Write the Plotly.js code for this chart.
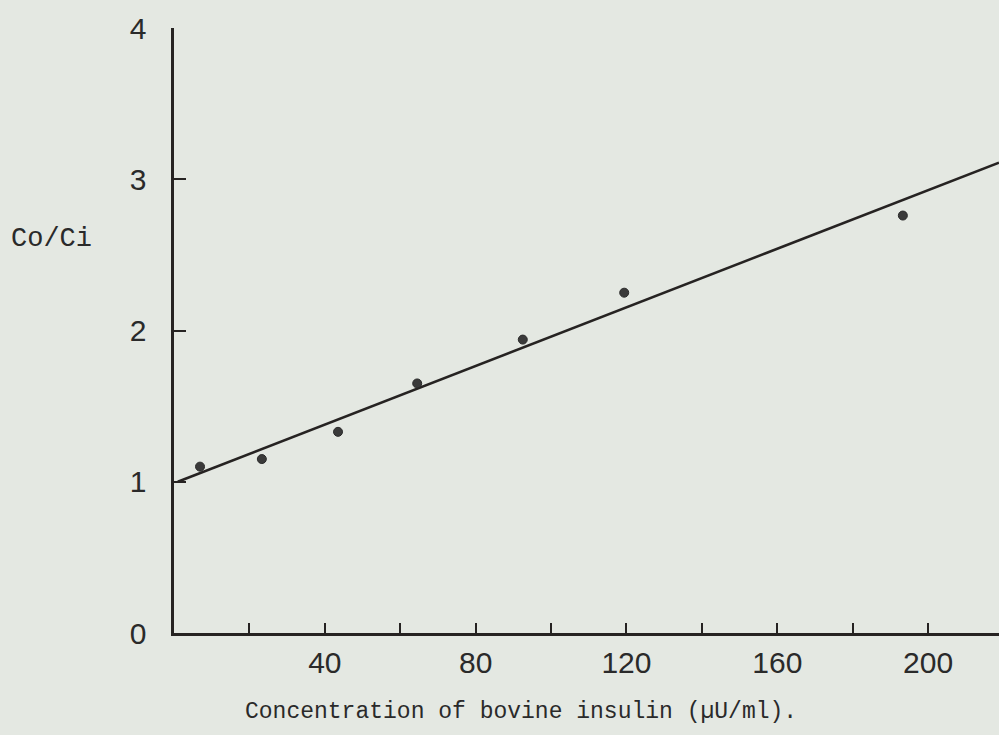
<!DOCTYPE html>
<html>
<head>
<meta charset="utf-8">
<script src="https://cdn.plot.ly/plotly-3.0.1.min.js"></script>
<style>
  html, body { margin: 0; padding: 0; background: #e4e8e2; }
  #chart { width: 999px; height: 735px; }
</style>
</head>
<body>
<div id="chart"></div>
<script>
// Measured points: concentration of bovine insulin (µU/ml) vs Co/Ci
const insulinConc = [6.9, 23.3, 43.5, 64.5, 92.5, 119.4, 193.3];
const coCiRatio   = [1.10, 1.15, 1.33, 1.65, 1.94, 2.25, 2.76];

// Fitted straight line (end points)
const fitConc  = [1.0, 218.8];
const fitRatio = [1.0, 3.11];

// Axis ticks
const xTickVals  = [20, 40, 60, 80, 100, 120, 140, 160, 180, 200];
const xTickText  = ["", "40", "", "80", "", "120", "", "160", "", "200"];
const yTickVals  = [0, 1, 2, 3, 4];
const yTickText  = ["0", "1", "2", "3", "4"];

const ink = "#262322";
const tickFont = { family: "Liberation Sans Narrow, Liberation Sans, sans-serif", size: 30, color: "#2a2a2a" };
const typeFont = { family: "Liberation Mono, DejaVu Sans Mono, monospace", size: 23, color: "#2a2a2a" };
const yTitleFont = { family: "Liberation Mono, DejaVu Sans Mono, monospace", size: 27, color: "#2a2a2a" };

const traces = [
  {
    x: fitConc, y: fitRatio, type: "scatter", mode: "lines",
    line: { color: ink, width: 2.6 }, hoverinfo: "skip", showlegend: false
  },
  {
    x: insulinConc, y: coCiRatio, type: "scatter", mode: "markers",
    marker: { color: "#3a3a3a", size: 9, line: { color: "#2a2a2a", width: 1 } },
    showlegend: false, cliponaxis: false
  }
];

const layout = {
  width: 999, height: 735,
  margin: { l: 174, r: 0, t: 28, b: 102 },
  paper_bgcolor: "#e4e8e2",
  plot_bgcolor: "#e4e8e2",
  showlegend: false,
  xaxis: {
    range: [0, 218.8],
    showgrid: false, zeroline: false,
    showline: true, linecolor: ink, linewidth: 2.6,
    ticks: "inside", ticklen: 10, tickwidth: 2, tickcolor: ink,
    tickmode: "array", tickvals: xTickVals, ticktext: xTickText,
    tickfont: tickFont, ticklabelstandoff: 1
  },
  yaxis: {
    range: [0, 4],
    showgrid: false, zeroline: false,
    showline: true, linecolor: ink, linewidth: 2.6,
    ticks: "inside", ticklen: 12, tickwidth: 2, tickcolor: ink,
    tickmode: "array", tickvals: yTickVals, ticktext: yTickText,
    tickfont: tickFont, ticklabelstandoff: 19
  },
  annotations: [
    {
      text: "Co/Ci", xref: "paper", yref: "paper",
      x: -0.1485, y: 0.652, xanchor: "center", yanchor: "middle",
      showarrow: false, font: yTitleFont
    },
    {
      text: "Concentration of bovine insulin (µU/ml).", xref: "paper", yref: "paper",
      x: 0.0835, y: -0.13, xanchor: "left", yanchor: "middle",
      showarrow: false, font: typeFont
    }
  ]
};

Plotly.newPlot("chart", traces, layout, { displayModeBar: false, staticPlot: true });
</script>
</body>
</html>
